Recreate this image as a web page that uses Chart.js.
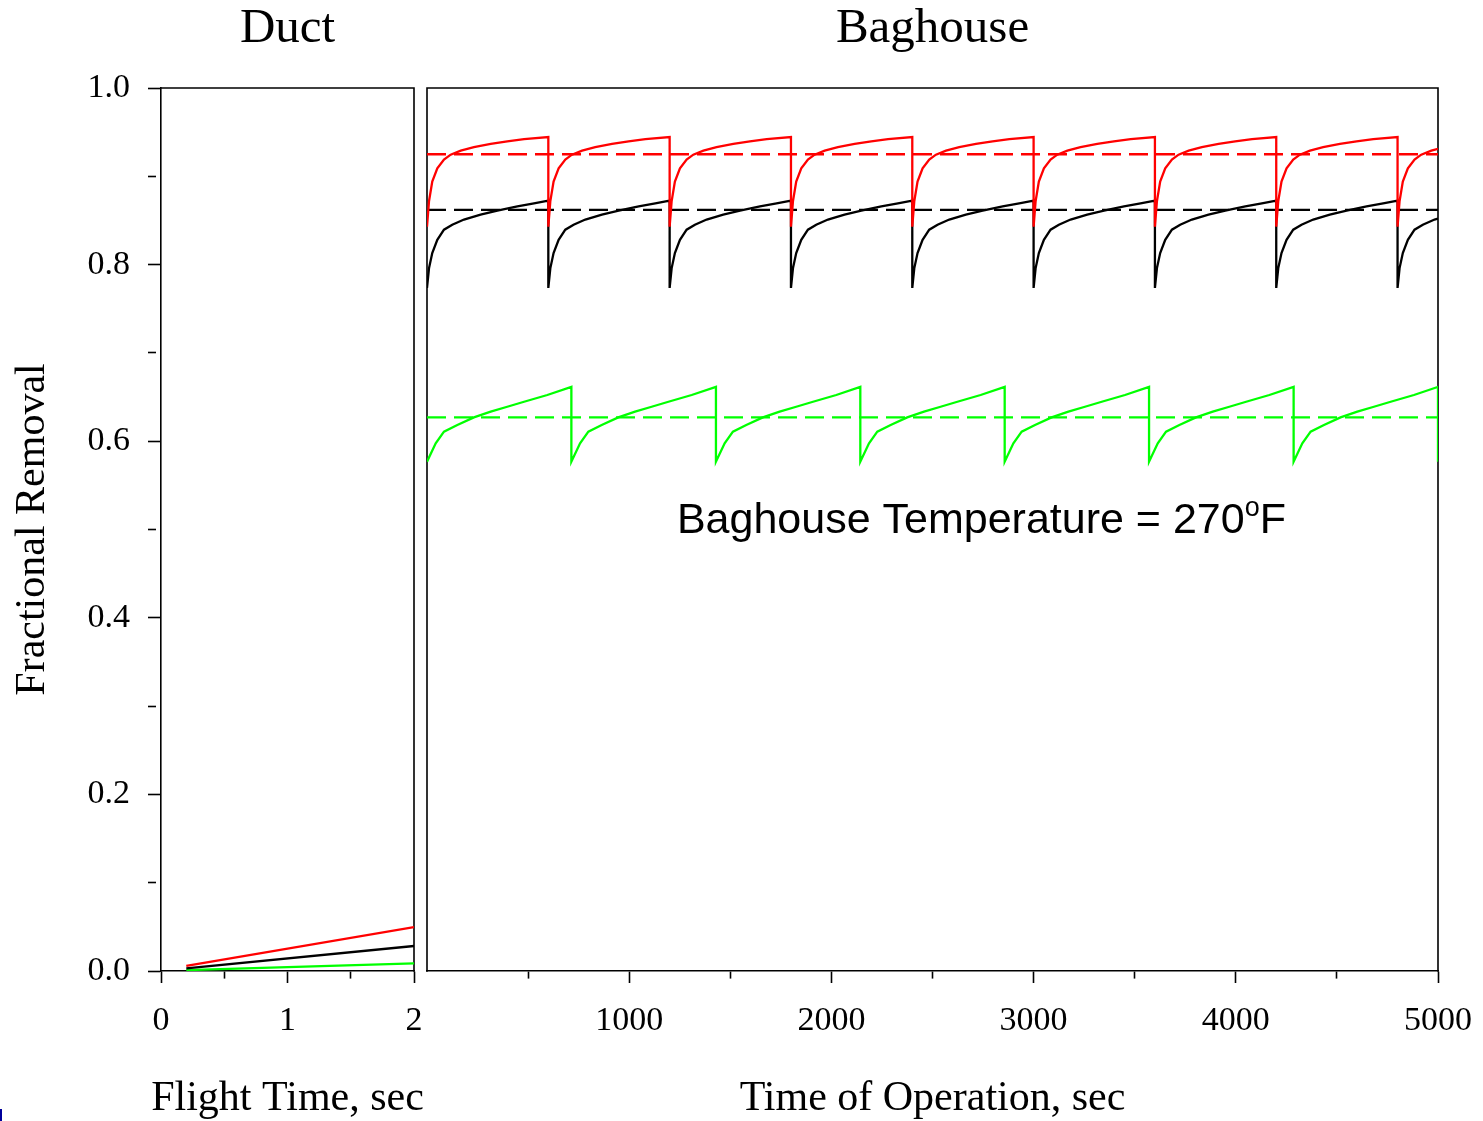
<!DOCTYPE html>
<html><head><meta charset="utf-8">
<script src="https://cdn.jsdelivr.net/npm/chart.js@4/dist/chart.umd.min.js"></script>
<style>
html,body{margin:0;padding:0;background:#fff;}
#wrap{position:relative;width:1483px;height:1121px;overflow:hidden;background:#fff;}
canvas{position:absolute;left:0;top:0;}
#mark{position:absolute;left:0;top:1109px;width:2px;height:12px;background:#00009c;}
</style></head><body>
<div id="wrap">
<canvas id="duct" width="1483" height="1121"></canvas>
<canvas id="bag" width="1483" height="1121"></canvas>
<div id="mark"></div>
</div>
<script>
// ---------- Duct panel data ----------
const ductTime  = [0.2, 2.0];
const ductRed   = [0.0057, 0.0498];
const ductBlack = [0.0030, 0.0283];
const ductGreen = [0.0010, 0.0087];

// ---------- Baghouse panel data ----------
const redTime = [
 0,10,26,51,84,117,167,232,315,397,480,600,
 600,610,626,651,684,717,767,832,915,997,1080,1200,
 1200,1210,1226,1251,1284,1317,1367,1432,1515,1597,1680,1800,
 1800,1810,1826,1851,1884,1917,1967,2032,2115,2197,2280,2400,
 2400,2410,2426,2451,2484,2517,2567,2632,2715,2797,2880,3000,
 3000,3010,3026,3051,3084,3117,3167,3232,3315,3397,3480,3600,
 3600,3610,3626,3651,3684,3717,3767,3832,3915,3997,4080,4200,
 4200,4210,4226,4251,4284,4317,4367,4432,4515,4597,4680,4800,
 4800,4810,4826,4851,4884,4917,4967,5000];
const redValue = [
 0.843,0.872,0.894,0.909,0.919,0.9245,0.929,0.933,0.9366,0.9396,0.9422,0.9445,
 0.843,0.872,0.894,0.909,0.919,0.9245,0.929,0.933,0.9366,0.9396,0.9422,0.9445,
 0.843,0.872,0.894,0.909,0.919,0.9245,0.929,0.933,0.9366,0.9396,0.9422,0.9445,
 0.843,0.872,0.894,0.909,0.919,0.9245,0.929,0.933,0.9366,0.9396,0.9422,0.9445,
 0.843,0.872,0.894,0.909,0.919,0.9245,0.929,0.933,0.9366,0.9396,0.9422,0.9445,
 0.843,0.872,0.894,0.909,0.919,0.9245,0.929,0.933,0.9366,0.9396,0.9422,0.9445,
 0.843,0.872,0.894,0.909,0.919,0.9245,0.929,0.933,0.9366,0.9396,0.9422,0.9445,
 0.843,0.872,0.894,0.909,0.919,0.9245,0.929,0.933,0.9366,0.9396,0.9422,0.9445,
 0.843,0.872,0.894,0.909,0.919,0.9245,0.929,0.931];

const blackTime = [
 0,10,26,51,84,125,183,265,348,447,529,600,
 600,610,626,651,684,725,783,865,948,1047,1129,1200,
 1200,1210,1226,1251,1284,1325,1383,1465,1548,1647,1729,1800,
 1800,1810,1826,1851,1884,1925,1983,2065,2148,2247,2329,2400,
 2400,2410,2426,2451,2484,2525,2583,2665,2748,2847,2929,3000,
 3000,3010,3026,3051,3084,3125,3183,3265,3348,3447,3529,3600,
 3600,3610,3626,3651,3684,3725,3783,3865,3948,4047,4129,4200,
 4200,4210,4226,4251,4284,4325,4383,4465,4548,4647,4729,4800,
 4800,4810,4826,4851,4884,4925,4983,5000];
const blackValue = [
 0.7735,0.796,0.813,0.828,0.8395,0.8452,0.851,0.8565,0.861,0.866,0.8694,0.8724,
 0.7735,0.796,0.813,0.828,0.8395,0.8452,0.851,0.8565,0.861,0.866,0.8694,0.8724,
 0.7735,0.796,0.813,0.828,0.8395,0.8452,0.851,0.8565,0.861,0.866,0.8694,0.8724,
 0.7735,0.796,0.813,0.828,0.8395,0.8452,0.851,0.8565,0.861,0.866,0.8694,0.8724,
 0.7735,0.796,0.813,0.828,0.8395,0.8452,0.851,0.8565,0.861,0.866,0.8694,0.8724,
 0.7735,0.796,0.813,0.828,0.8395,0.8452,0.851,0.8565,0.861,0.866,0.8694,0.8724,
 0.7735,0.796,0.813,0.828,0.8395,0.8452,0.851,0.8565,0.861,0.866,0.8694,0.8724,
 0.7735,0.796,0.813,0.828,0.8395,0.8452,0.851,0.8565,0.861,0.866,0.8694,0.8724,
 0.7735,0.796,0.813,0.828,0.8395,0.8452,0.851,0.852];

const greenTime = [
 0,43,84,150,232,315,397,480,595,714,
 714,757,798,864,946,1029,1111,1194,1309,1429,
 1429,1472,1513,1579,1661,1744,1826,1909,2024,2143,
 2143,2186,2227,2293,2375,2458,2540,2623,2738,2857,
 2857,2900,2941,3007,3089,3172,3254,3337,3452,3571,
 3571,3614,3655,3721,3803,3886,3968,4051,4166,4286,
 4286,4329,4370,4436,4518,4601,4683,4766,4881,5000,
 5000];
const greenValue = [
 0.5768,0.5976,0.6108,0.6183,0.627,0.6334,0.639,0.6447,0.6523,0.6615,
 0.5768,0.5976,0.6108,0.6183,0.627,0.6334,0.639,0.6447,0.6523,0.6615,
 0.5768,0.5976,0.6108,0.6183,0.627,0.6334,0.639,0.6447,0.6523,0.6615,
 0.5768,0.5976,0.6108,0.6183,0.627,0.6334,0.639,0.6447,0.6523,0.6615,
 0.5768,0.5976,0.6108,0.6183,0.627,0.6334,0.639,0.6447,0.6523,0.6615,
 0.5768,0.5976,0.6108,0.6183,0.627,0.6334,0.639,0.6447,0.6523,0.6615,
 0.5768,0.5976,0.6108,0.6183,0.627,0.6334,0.639,0.6447,0.6523,0.6615,
 0.5768];

// time-averaged levels (dashed)
const meanTime  = [0, 5000];
const meanRed   = [0.925, 0.925];
const meanBlack = [0.862, 0.862];
const meanGreen = [0.627, 0.627];

// tick labels
const yTickLabels    = ['0.0','0.2','0.4','0.6','0.8','1.0'];
const ductXLabels    = ['0','1','2'];
const bagXLabels     = ['1000','2000','3000','4000','5000'];

// texts
const ductTitle = 'Duct';
const bagTitle  = 'Baghouse';
const yTitle    = 'Fractional Removal';
const ductXTitle = 'Flight Time, sec';
const bagXTitle  = 'Time of Operation, sec';
const noteMain = 'Baghouse Temperature = 270';
const noteSup  = 'o';
const noteTail = 'F';

// ---------- helpers ----------
const pts = (xs, ys) => xs.map((x, i) => ({x: x, y: ys[i]}));
const findLabel = (v, labels) => {
  const l = labels.find(s => Math.abs(parseFloat(s) - v) < 1e-6);
  return l === undefined ? '' : l;
};
const isMajor = (v, labels) => findLabel(v, labels) !== '';

const SERIF = '"Liberation Serif", "Times New Roman", serif';
const SANS = '"Liberation Sans", Arial, sans-serif';
Chart.defaults.font.family = SERIF;
Chart.defaults.color = '#000';

const boxPlugin = {
  id: 'box',
  beforeDatasetsDraw(chart, args, opts) {
    const {ctx, chartArea: a} = chart;
    ctx.save();
    ctx.strokeStyle = '#000';
    ctx.lineWidth = 1.6;
    ctx.lineCap = 'square';
    ctx.beginPath();
    if (opts.left) { ctx.moveTo(a.left, a.bottom); ctx.lineTo(a.left, a.top); }
    else { ctx.moveTo(a.left, a.top); }
    ctx.lineTo(a.right, a.top);
    ctx.lineTo(a.right, a.bottom);
    ctx.stroke();
    ctx.restore();
  }
};

// x-axis title drawn without Chart.js' maxWidth squeeze
const xTitlePlugin = {
  id: 'xTitle',
  afterDraw(chart, args, o) {
    const {ctx} = chart;
    const s = chart.scales.x;
    ctx.save();
    ctx.fillStyle = '#000';
    ctx.textAlign = 'center';
    ctx.textBaseline = 'middle';
    ctx.font = o.size + 'px ' + SERIF;
    ctx.fillText(o.text, (s.left + s.right) / 2, s.bottom - o.offset);
    ctx.restore();
  }
};

const notePlugin = {
  id: 'note',
  afterDatasetsDraw(chart, args, o) {
    const {ctx} = chart;
    const x = chart.scales.x.getPixelForValue(o.x);
    const y = chart.scales.y.getPixelForValue(o.y);
    ctx.save();
    ctx.fillStyle = '#000';
    ctx.textAlign = 'left';
    ctx.textBaseline = 'alphabetic';
    ctx.font = '43px ' + SANS;
    ctx.fillText(noteMain, x, y);
    const w1 = ctx.measureText(noteMain).width;
    ctx.font = '27px ' + SANS;
    ctx.fillText(noteSup, x + w1, y - 17);
    const w2 = ctx.measureText(noteSup).width;
    ctx.font = '43px ' + SANS;
    ctx.fillText(noteTail, x + w1 + w2, y);
    ctx.restore();
  }
};

const lineDefaults = {borderWidth: 2.3, pointRadius: 0, tension: 0, fill: false};
const noPad = s => { s.paddingLeft = 0; s.paddingRight = 0; s.paddingTop = 0; s.paddingBottom = 0; };

// ---------- Duct chart ----------
new Chart(document.getElementById('duct'), {
  type: 'line',
  data: {datasets: [
    Object.assign({data: pts(ductTime, ductRed),   borderColor: '#ff0000', order: 1}, lineDefaults),
    Object.assign({data: pts(ductTime, ductBlack), borderColor: '#000000', order: 2}, lineDefaults),
    Object.assign({data: pts(ductTime, ductGreen), borderColor: '#00ff00', order: 3}, lineDefaults)
  ]},
  options: {
    responsive: false, animation: false, devicePixelRatio: 1,
    layout: {padding: {left: 0, top: 0, right: 1069, bottom: 0}},
    plugins: {
      legend: {display: false}, tooltip: {enabled: false},
      title: {display: true, text: ductTitle, color: '#000', fullSize: false,
              font: {family: SERIF, size: 49, weight: 'normal', lineHeight: 1.2},
              padding: {top: 0, bottom: 29.2}},
      box: {left: false},
      xTitle: {text: ductXTitle, size: 42, offset: 22}
    },
    scales: {
      x: {
        type: 'linear', min: 0, max: 2,
        afterFit(s) { s.height = 150; noPad(s); },
        ticks: {stepSize: 0.5, autoSkip: false, maxRotation: 0, minRotation: 0, padding: 18,
                font: {size: 34}, color: '#000',
                callback: v => findLabel(v, ductXLabels)},
        grid: {drawOnChartArea: false, tickLength: 12, tickWidth: 1.6, tickColor: '#000',
               tickBorderDash: c => isMajor(c.tick.value, ductXLabels) ? [] : [7, 60]},
        border: {display: true, color: '#000', width: 1.6},
        title: {display: false}
      },
      y: {
        min: 0, max: 1,
        afterFit(s) { s.width = 161; noPad(s); },
        ticks: {stepSize: 0.1, autoSkip: false, padding: 18, font: {size: 34}, color: '#000',
                callback: v => findLabel(v, yTickLabels)},
        grid: {drawOnChartArea: false, tickLength: 13, tickWidth: 1.6, tickColor: '#000',
               tickBorderDash: c => isMajor(c.tick.value, yTickLabels) ? [] : [8, 60]},
        border: {display: true, color: '#000', width: 1.6},
        title: {display: true, text: yTitle, color: '#000',
                font: {size: 42, lineHeight: 1}, padding: {top: 11.5, bottom: 0}}
      }
    }
  },
  plugins: [boxPlugin, xTitlePlugin]
});

// ---------- Baghouse chart ----------
const dashed = [19, 8];
new Chart(document.getElementById('bag'), {
  type: 'line',
  data: {datasets: [
    Object.assign({data: pts(redTime, redValue),     borderColor: '#ff0000', order: 1}, lineDefaults),
    Object.assign({data: pts(blackTime, blackValue), borderColor: '#000000', order: 2}, lineDefaults),
    Object.assign({data: pts(greenTime, greenValue), borderColor: '#00ff00', order: 3}, lineDefaults),
    Object.assign({data: pts(meanTime, meanRed),     borderColor: '#ff0000', borderDash: dashed, order: 4}, lineDefaults),
    Object.assign({data: pts(meanTime, meanBlack),   borderColor: '#000000', borderDash: dashed, order: 5}, lineDefaults),
    Object.assign({data: pts(meanTime, meanGreen),   borderColor: '#00ff00', borderDash: dashed, order: 6}, lineDefaults)
  ]},
  options: {
    responsive: false, animation: false, devicePixelRatio: 1,
    layout: {padding: {left: 427, top: 0, right: 45, bottom: 0}},
    plugins: {
      legend: {display: false}, tooltip: {enabled: false},
      title: {display: true, text: bagTitle, color: '#000', fullSize: false,
              font: {family: SERIF, size: 49, weight: 'normal', lineHeight: 1.2},
              padding: {top: 0, bottom: 29.2}},
      box: {left: true},
      note: {x: 1236, y: 0.496},
      xTitle: {text: bagXTitle, size: 42, offset: 22}
    },
    scales: {
      x: {
        type: 'linear', min: 0, max: 5000,
        afterFit(s) { s.height = 150; noPad(s); },
        ticks: {stepSize: 500, autoSkip: false, maxRotation: 0, minRotation: 0, padding: 18,
                font: {size: 34}, color: '#000',
                callback: v => findLabel(v, bagXLabels)},
        grid: {drawOnChartArea: false, tickLength: 12, tickWidth: 1.6,
               tickColor: c => c.tick.value === 0 ? 'rgba(0,0,0,0)' : '#000',
               tickBorderDash: c => isMajor(c.tick.value, bagXLabels) ? [] : [7, 60]},
        border: {display: true, color: '#000', width: 1.6},
        title: {display: false}
      },
      y: {display: false, min: 0, max: 1}
    }
  },
  plugins: [boxPlugin, notePlugin, xTitlePlugin]
});
</script>
</body></html>
